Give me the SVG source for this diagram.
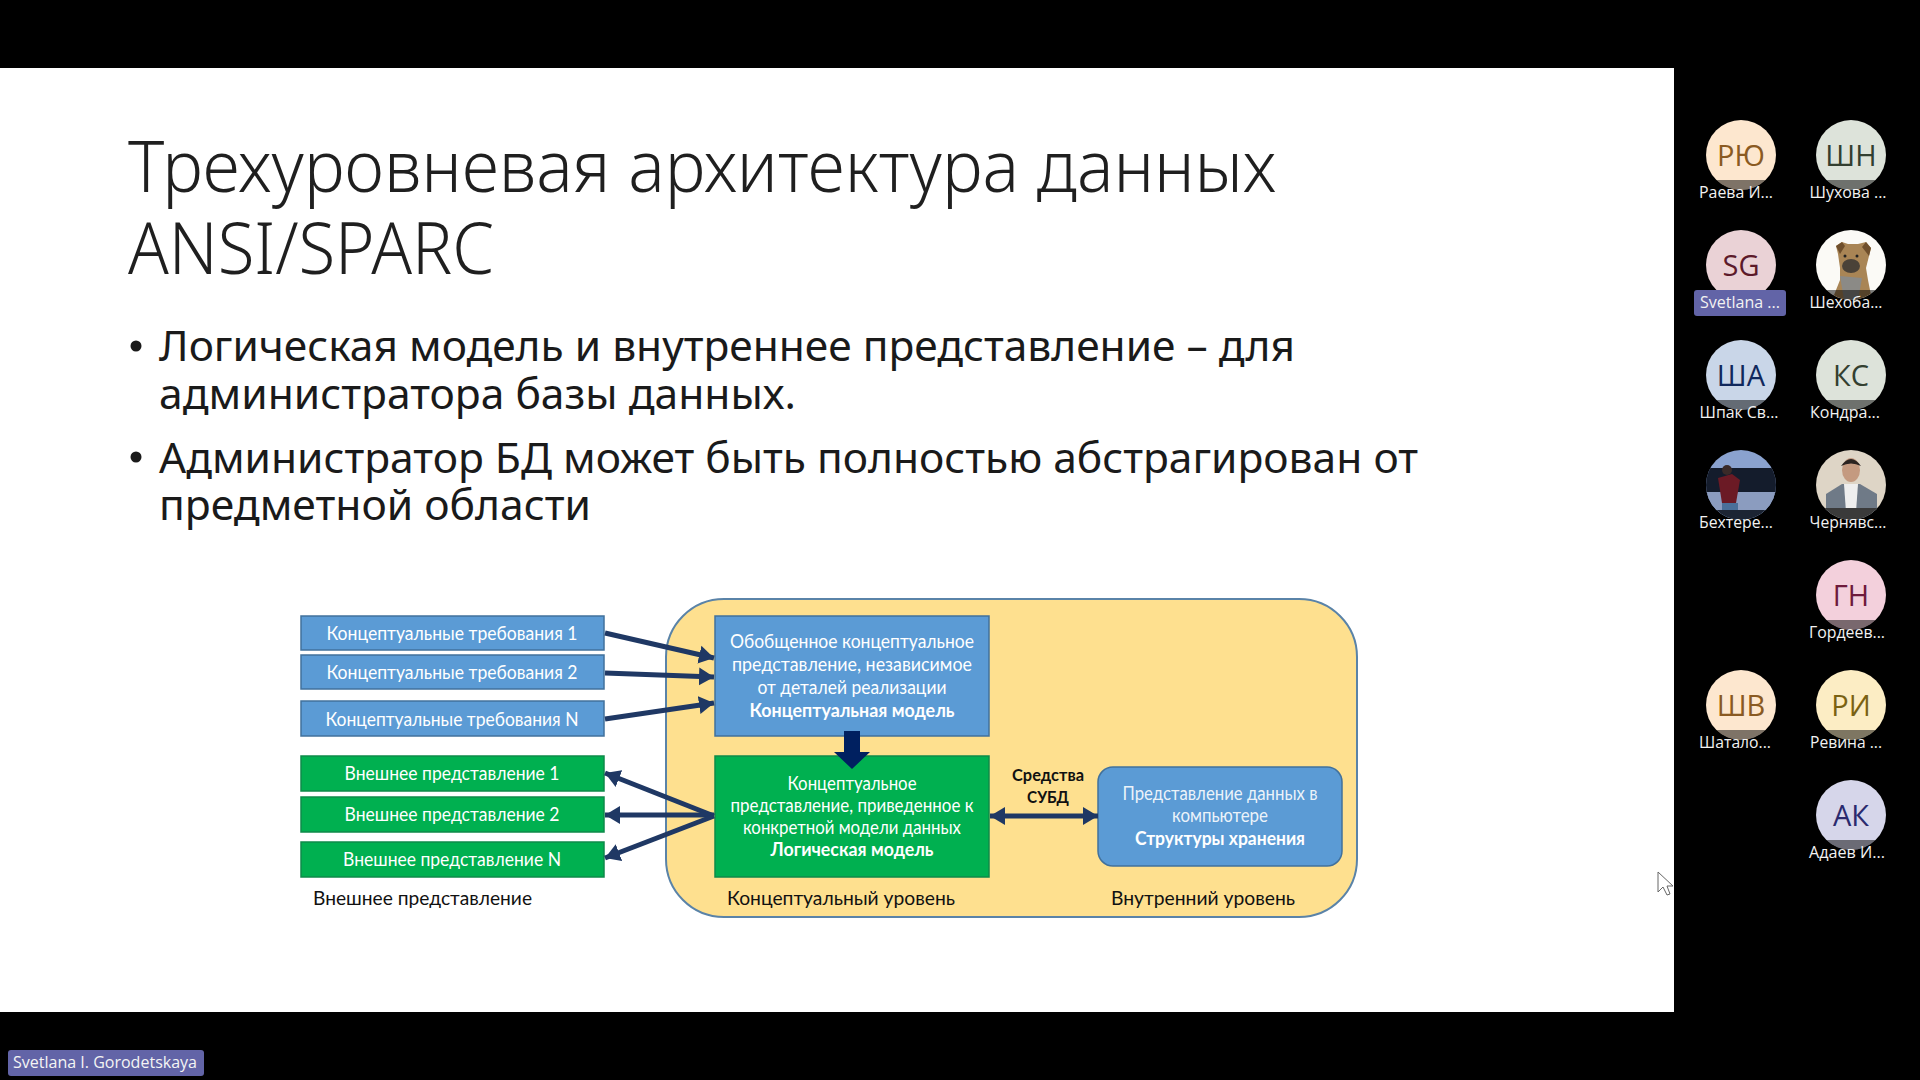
<svg xmlns="http://www.w3.org/2000/svg" width="1920" height="1080" viewBox="0 0 1920 1080">
<style>
text{font-family:"Noto Sans","Open Sans",sans-serif}
.t{font-size:72px;font-weight:300;fill:#1f1f1f}
.b{font-size:41px;fill:#1a1a1a}
.s{font-family:"Lato","Noto Sans",sans-serif;font-size:18.5px;fill:#fff;text-anchor:middle}
.l{font-family:"Lato","Noto Sans",sans-serif;font-size:19.5px;fill:#111}
.bd{font-weight:700}
.blue{fill:#5b9bd5;stroke:#41719c;stroke-width:1.5}
.green{fill:#00b050;stroke:#0e8a4a;stroke-width:1.5}
.a{fill:none;stroke:#1f3864;stroke-width:5}
.av{font-family:"Open Sans","Noto Sans",sans-serif;font-size:29px;font-weight:500;text-anchor:middle}
.nm{font-family:"Open Sans","Noto Sans",sans-serif;font-size:15.5px;fill:#f2f2f2;text-anchor:middle}
.band{fill:#000;opacity:.5}
</style>
<defs>
<marker id="h" markerUnits="userSpaceOnUse" markerWidth="16" markerHeight="20" refX="15" refY="10" orient="auto-start-reverse"><path d="M0 1 15 10 0 19z" fill="#1f3864"/></marker>
<clipPath id="c1"><circle cx="1741" cy="155" r="35"/></clipPath>
<clipPath id="c2"><circle cx="1851" cy="155" r="35"/></clipPath>
<clipPath id="c3"><circle cx="1851" cy="265" r="35"/></clipPath>
<clipPath id="c4"><circle cx="1741" cy="375" r="35"/></clipPath>
<clipPath id="c5"><circle cx="1851" cy="375" r="35"/></clipPath>
<clipPath id="c6"><circle cx="1741" cy="485" r="35"/></clipPath>
<clipPath id="c7"><circle cx="1851" cy="485" r="35"/></clipPath>
<clipPath id="c8"><circle cx="1851" cy="595" r="35"/></clipPath>
<clipPath id="c9"><circle cx="1741" cy="705" r="35"/></clipPath>
<clipPath id="c10"><circle cx="1851" cy="705" r="35"/></clipPath>
<clipPath id="c11"><circle cx="1851" cy="815" r="35"/></clipPath>
</defs>
<rect width="1920" height="1080" fill="#000"/>
<rect id="slide" x="0" y="68" width="1674" height="944" fill="#fff"/>
<g id="title">
<text class="t" x="128" y="192" textLength="1148" lengthAdjust="spacingAndGlyphs">Трехуровневая архитектура данных</text>
<text class="t" x="128" y="274" textLength="366" lengthAdjust="spacingAndGlyphs">ANSI/SPARC</text>
</g>
<g id="bullets">
<circle cx="136" cy="346" r="5.5" fill="#1a1a1a"/>
<text class="b" x="159" y="361" textLength="1136" lengthAdjust="spacingAndGlyphs">Логическая модель и внутреннее представление – для</text>
<text class="b" x="159" y="409" textLength="637" lengthAdjust="spacingAndGlyphs">администратора базы данных.</text>
<circle cx="136" cy="457" r="5.5" fill="#1a1a1a"/>
<text class="b" x="159" y="473" textLength="1259" lengthAdjust="spacingAndGlyphs">Администратор БД может быть полностью абстрагирован от</text>
<text class="b" x="159" y="520" textLength="432" lengthAdjust="spacingAndGlyphs">предметной области</text>
</g>
<g id="level-bg"><rect x="666" y="599" width="691" height="318" rx="58" fill="#fee08f" stroke="#5a83a8" stroke-width="2"/></g>
<g id="req1"><rect class="blue" x="301" y="616" width="303" height="34"/><text class="s" x="452" y="640" textLength="251" lengthAdjust="spacingAndGlyphs">Концептуальные требования 1</text></g>
<g id="req2"><rect class="blue" x="301" y="655" width="303" height="34"/><text class="s" x="452" y="679" textLength="251" lengthAdjust="spacingAndGlyphs">Концептуальные требования 2</text></g>
<g id="reqN"><rect class="blue" x="301" y="701" width="303" height="35"/><text class="s" x="452" y="726" textLength="253" lengthAdjust="spacingAndGlyphs">Концептуальные требования N</text></g>
<g id="ext1"><rect class="green" x="301" y="756" width="303" height="35"/><text class="s" x="452" y="780" textLength="215" lengthAdjust="spacingAndGlyphs">Внешнее представление 1</text></g>
<g id="ext2"><rect class="green" x="301" y="797" width="303" height="35"/><text class="s" x="452" y="821" textLength="215" lengthAdjust="spacingAndGlyphs">Внешнее представление 2</text></g>
<g id="extN"><rect class="green" x="301" y="842" width="303" height="35"/><text class="s" x="452" y="866" textLength="218" lengthAdjust="spacingAndGlyphs">Внешнее представление N</text></g>
<g id="concept"><rect class="blue" x="715" y="616" width="274" height="120"/>
<text class="s" x="852" y="648" textLength="244" lengthAdjust="spacingAndGlyphs">Обобщенное концептуальное</text>
<text class="s" x="852" y="671" textLength="240" lengthAdjust="spacingAndGlyphs">представление, независимое</text>
<text class="s" x="852" y="694" textLength="189" lengthAdjust="spacingAndGlyphs">от деталей реализации</text>
<text class="s bd" x="852" y="717" textLength="205" lengthAdjust="spacingAndGlyphs">Концептуальная модель</text></g>
<g id="logical"><rect class="green" x="715" y="756" width="274" height="121"/>
<text class="s" x="852" y="790" textLength="129" lengthAdjust="spacingAndGlyphs">Концептуальное</text>
<text class="s" x="852" y="812" textLength="243" lengthAdjust="spacingAndGlyphs">представление, приведенное к</text>
<text class="s" x="852" y="834" textLength="218" lengthAdjust="spacingAndGlyphs">конкретной модели данных</text>
<text class="s bd" x="852" y="856" textLength="163" lengthAdjust="spacingAndGlyphs">Логическая модель</text></g>
<g id="storage"><rect class="blue" x="1098" y="767" width="244" height="99" rx="15"/>
<text class="s" x="1220" y="800" textLength="195" lengthAdjust="spacingAndGlyphs" fill-opacity=".9">Представление данных в</text>
<text class="s" x="1220" y="822" textLength="96" lengthAdjust="spacingAndGlyphs" fill-opacity=".9">компьютере</text>
<text class="s bd" x="1220" y="845" textLength="170" lengthAdjust="spacingAndGlyphs">Структуры хранения</text></g>
<g id="connectors">
<path class="a" d="M605 633 714 658" marker-end="url(#h)"/>
<path class="a" d="M605 673 714 677" marker-end="url(#h)"/>
<path class="a" d="M605 719 714 703" marker-end="url(#h)"/>
<path class="a" d="M714 816 605 773" marker-end="url(#h)"/>
<path class="a" d="M714 815 605 815" marker-end="url(#h)"/>
<path class="a" d="M714 816 605 858" marker-end="url(#h)"/>
<path class="a" d="M990 816H1098" marker-start="url(#h)" marker-end="url(#h)"/>
<path d="M844 731h16v21h10l-18 17-18-17h10z" fill="#002060"/>
</g>
<g id="labels">
<text class="l" x="313" y="905" textLength="219" lengthAdjust="spacingAndGlyphs">Внешнее представление</text>
<text class="l" x="727" y="905" textLength="228" lengthAdjust="spacingAndGlyphs">Концептуальный уровень</text>
<text class="l" x="1111" y="905" textLength="184" lengthAdjust="spacingAndGlyphs">Внутренний уровень</text>
<text class="l bd" x="1012" y="781" textLength="72" lengthAdjust="spacingAndGlyphs" style="font-size:17px">Средства</text>
<text class="l bd" x="1027" y="803" textLength="42" lengthAdjust="spacingAndGlyphs" style="font-size:17px">СУБД</text>
</g>
<g id="avatar-ryu"><circle cx="1741" cy="155" r="35" fill="#fde7cf"/><text class="av" x="1741" y="166" fill="#8a5a22">РЮ</text><rect class="band" x="1700" y="180" width="82" height="12" clip-path="url(#c1)"/><text class="nm" x="1736" y="198" textLength="74" lengthAdjust="spacingAndGlyphs">Раева И...</text></g>
<g id="avatar-shn"><circle cx="1851" cy="155" r="35" fill="#dde3da"/><text class="av" x="1851" y="166" fill="#333f30">ШН</text><rect class="band" x="1810" y="180" width="82" height="12" clip-path="url(#c2)"/><text class="nm" x="1848" y="198" textLength="77" lengthAdjust="spacingAndGlyphs">Шухова ...</text></g>
<g id="avatar-sg"><circle cx="1741" cy="265" r="35" fill="#ead2d6"/><text class="av" x="1741" y="276" fill="#5c1a2a" font-weight="600">SG</text><rect x="1694" y="290" width="92" height="26" rx="3" fill="#6264a7"/><text class="nm" x="1740" y="308" textLength="80" lengthAdjust="spacingAndGlyphs">Svetlana ...</text></g>
<g id="avatar-shehoba"><circle cx="1851" cy="265" r="35" fill="#fbfaf6"/><g clip-path="url(#c3)"><path d="M1838 254 1836 246 1842 242 1848 244H1858L1866 242 1871 248 1869 256 1866 268 1868 280 1872 300H1832L1840 280 1840 268z" fill="#a98555"/><path d="M1836 246 1842 242 1845 246 1840 254zM1866 242 1871 248 1869 256 1862 247z" fill="#6f4f2c"/><ellipse cx="1851" cy="266" rx="9" ry="7" fill="#4a4238"/><circle cx="1845" cy="256" r="1.5" fill="#222"/><circle cx="1857" cy="256" r="1.5" fill="#222"/><path d="M1840 276 1862 278 1858 300H1844z" fill="#8b8a86"/><rect class="band" x="1810" y="290" width="82" height="12"/></g><text class="nm" x="1846" y="308" textLength="73" lengthAdjust="spacingAndGlyphs">Шехоба...</text></g>
<g id="avatar-sha"><circle cx="1741" cy="375" r="35" fill="#c9d6e8"/><text class="av" x="1741" y="386" fill="#10285c">ША</text><rect class="band" x="1700" y="400" width="82" height="12" clip-path="url(#c4)"/><text class="nm" x="1739" y="418" textLength="79" lengthAdjust="spacingAndGlyphs">Шпак Св...</text></g>
<g id="avatar-ks"><circle cx="1851" cy="375" r="35" fill="#dde3da"/><text class="av" x="1851" y="386" fill="#333f30">КС</text><rect class="band" x="1810" y="400" width="82" height="12" clip-path="url(#c5)"/><text class="nm" x="1845" y="418" textLength="70" lengthAdjust="spacingAndGlyphs">Кондра...</text></g>
<g id="avatar-beh"><g clip-path="url(#c6)"><rect x="1706" y="450" width="70" height="70" fill="#8aa2cf"/><rect x="1706" y="468" width="70" height="26" fill="#141c2c"/><rect x="1706" y="492" width="70" height="28" fill="#8b9cbf"/><path d="M1718 478 1732 474 1740 480 1736 503H1722z" fill="#6b1a25"/><circle cx="1727" cy="470" r="5" fill="#3a2a28"/><rect x="1722" y="503" width="16" height="14" fill="#4a6f99"/><rect x="1706" y="510" width="70" height="10" fill="#1c2433"/></g><text class="nm" x="1736" y="528" textLength="74" lengthAdjust="spacingAndGlyphs">Бехтере...</text></g>
<g id="avatar-chern"><g clip-path="url(#c7)"><rect x="1816" y="450" width="70" height="70" fill="#ded5c6"/><path d="M1826 520V494L1842 484H1860L1877 494V520z" fill="#6f7a87"/><path d="M1844 484H1858L1856 512H1846z" fill="#eee"/><ellipse cx="1851" cy="470" rx="9" ry="12" fill="#c49a80"/><path d="M1841 466Q1851 452 1861 466 1851 461 1841 466" fill="#2a2320"/><rect x="1816" y="508" width="70" height="12" fill="#3a3a3a"/></g><text class="nm" x="1848" y="528" textLength="77" lengthAdjust="spacingAndGlyphs">Чернявс...</text></g>
<g id="avatar-gn"><circle cx="1851" cy="595" r="35" fill="#f3d0dc"/><text class="av" x="1851" y="606" fill="#6e1a3c">ГН</text><rect class="band" x="1810" y="620" width="82" height="12" clip-path="url(#c8)"/><text class="nm" x="1847" y="638" textLength="76" lengthAdjust="spacingAndGlyphs">Гордеев...</text></g>
<g id="avatar-shv"><circle cx="1741" cy="705" r="35" fill="#fde7cf"/><text class="av" x="1741" y="716" fill="#8a5a22">ШВ</text><rect class="band" x="1700" y="730" width="82" height="12" clip-path="url(#c9)"/><text class="nm" x="1735" y="748" textLength="72" lengthAdjust="spacingAndGlyphs">Шатало...</text></g>
<g id="avatar-ri"><circle cx="1851" cy="705" r="35" fill="#fcedc4"/><text class="av" x="1851" y="716" fill="#7a6212">РИ</text><rect class="band" x="1810" y="730" width="82" height="12" clip-path="url(#c10)"/><text class="nm" x="1846" y="748" textLength="72" lengthAdjust="spacingAndGlyphs">Ревина ...</text></g>
<g id="avatar-ak"><circle cx="1851" cy="815" r="35" fill="#d6d6ea"/><text class="av" x="1851" y="826" fill="#2a2a6e">АК</text><rect class="band" x="1810" y="840" width="82" height="12" clip-path="url(#c11)"/><text class="nm" x="1847" y="858" textLength="76" lengthAdjust="spacingAndGlyphs">Адаев И...</text></g>
<g id="speaker"><rect x="8" y="1050" width="196" height="26" rx="3" fill="#6264a7"/><text x="13" y="1068" style="font-family:'Open Sans',sans-serif;font-size:16px" fill="#f4f4f4" textLength="184" lengthAdjust="spacingAndGlyphs">Svetlana I. Gorodetskaya</text></g>
<path id="cursor" d="M1658 872V892L1663 887 1667 895 1670 894 1667 886 1673 886z" fill="#fff" stroke="#666" stroke-width="1"/>
</svg>
